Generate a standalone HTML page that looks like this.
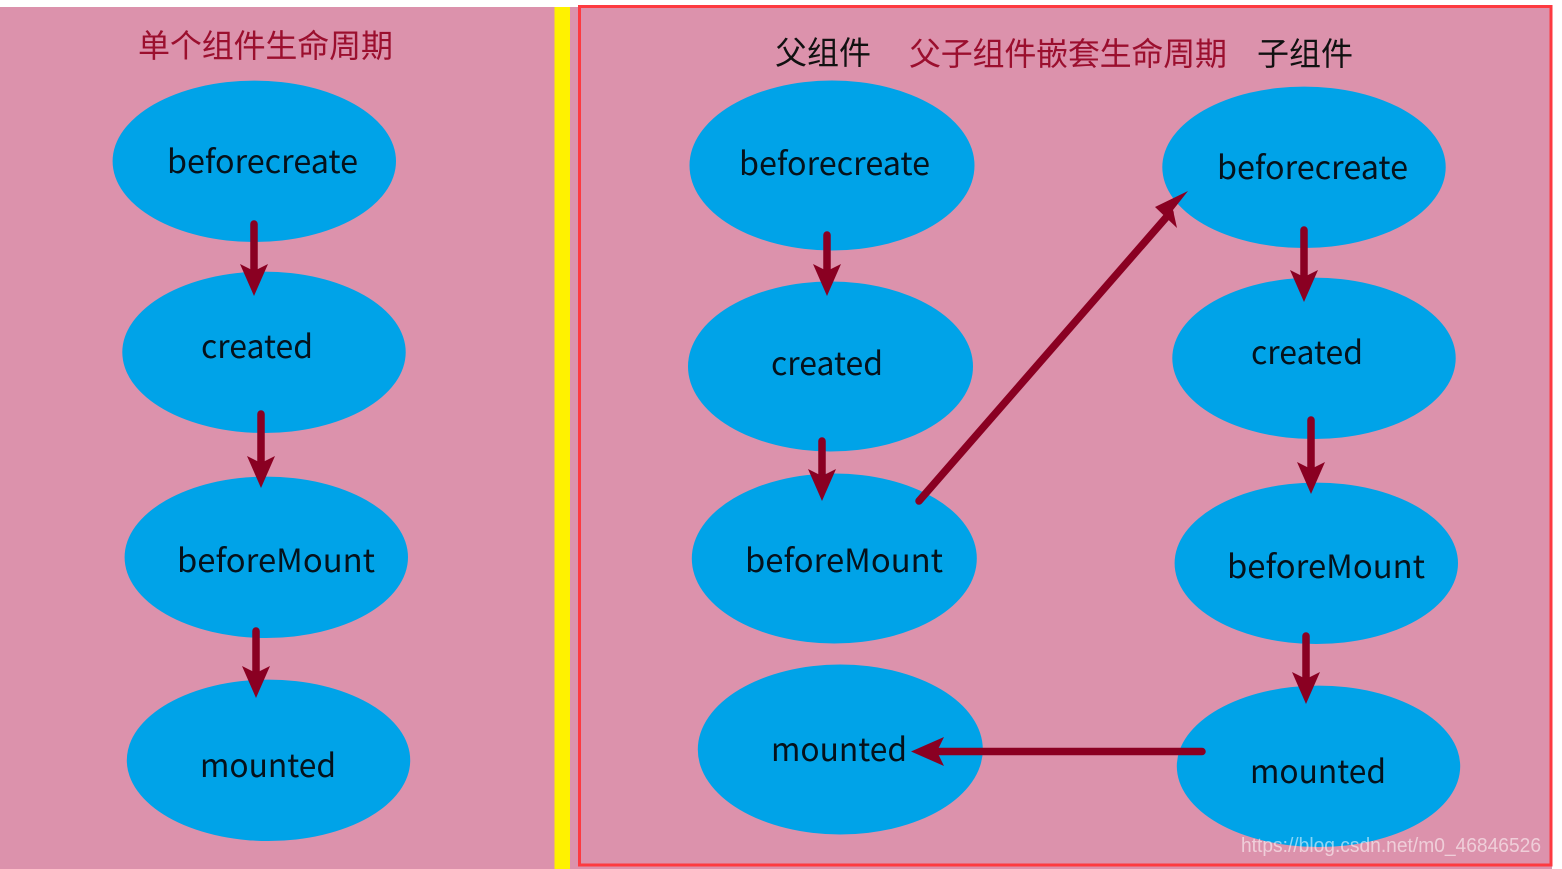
<!DOCTYPE html>
<html><head><meta charset="utf-8"><style>html,body{margin:0;padding:0;background:#fff;width:1562px;height:869px;overflow:hidden}svg{display:block}
text{font-family:"Noto Sans CJK SC","Liberation Sans",sans-serif}</style></head><body>
<svg width="1562" height="869" viewBox="0 0 1562 869" xmlns="http://www.w3.org/2000/svg">
<rect x="0" y="7" width="1552" height="862" fill="#dc92ac"/>
<rect x="554.500" y="7" width="15.500" height="862" fill="#fff200"/>
<rect x="579.500" y="6.500" width="971.500" height="858.500" fill="none" stroke="#fd3a40" stroke-width="3"/>
<g fill="#00a3e8">
<ellipse cx="254.300" cy="161.300" rx="141.700" ry="80.700"/><ellipse cx="264" cy="352.300" rx="141.700" ry="80.700"/><ellipse cx="266.300" cy="557.300" rx="141.700" ry="80.700"/><ellipse cx="268.500" cy="760.300" rx="141.700" ry="80.700"/>
<ellipse cx="832" cy="165.500" rx="142.500" ry="85"/><ellipse cx="830.500" cy="366.500" rx="142.500" ry="85"/><ellipse cx="834.300" cy="558.500" rx="142.500" ry="85"/><ellipse cx="840.300" cy="749.500" rx="142.500" ry="85"/>
<ellipse cx="1304" cy="167.300" rx="141.700" ry="80.700"/><ellipse cx="1314" cy="358.300" rx="141.700" ry="80.700"/><ellipse cx="1316.300" cy="563.300" rx="141.700" ry="80.700"/><ellipse cx="1318.500" cy="766.300" rx="141.700" ry="80.700"/>
</g>
<g stroke="#8a0022" stroke-width="7.500" stroke-linecap="round" fill="none">
<path d="M254 224V270M261 414V462M256 631V672M827 235V272M822 441V476M1304 230V276M1311 420V468M1306 636V678M919 501L1170 213M1202 751.500H940"/>
</g>
<g fill="#8a0022">
<path d="M240 264L254 296L268 264L254 271Z"/><path d="M247 456L261 488L275 456L261 463Z"/><path d="M242 666L256 698L270 666L256 673Z"/>
<path d="M813 264L827 296L841 264L827 271Z"/><path d="M808 469L822 501L836 469L822 476Z"/>
<path d="M1290 270L1304 302L1318 270L1304 277Z"/><path d="M1297 462L1311 494L1325 462L1311 469Z"/><path d="M1292 672L1306 704L1320 672L1306 679Z"/>
<path d="M1188 191L1155 207L1177 228L1173 210Z"/><path d="M911 751.500L944 737L937 751.500L944 766Z"/>
</g>
<g font-size="32" fill="#05121c">
<text x="167" y="173" textLength="191" lengthAdjust="spacingAndGlyphs">beforecreate</text>
<text x="201" y="358" textLength="112" lengthAdjust="spacingAndGlyphs">created</text>
<text x="177" y="572" textLength="198" lengthAdjust="spacingAndGlyphs">beforeMount</text>
<text x="200" y="777" textLength="136" lengthAdjust="spacingAndGlyphs">mounted</text>
<text x="739" y="175" textLength="191" lengthAdjust="spacingAndGlyphs">beforecreate</text>
<text x="771" y="375" textLength="112" lengthAdjust="spacingAndGlyphs">created</text>
<text x="745" y="572" textLength="198" lengthAdjust="spacingAndGlyphs">beforeMount</text>
<text x="771" y="761" textLength="136" lengthAdjust="spacingAndGlyphs">mounted</text>
<text x="1217" y="179" textLength="191" lengthAdjust="spacingAndGlyphs">beforecreate</text>
<text x="1251" y="364" textLength="112" lengthAdjust="spacingAndGlyphs">created</text>
<text x="1227" y="578" textLength="198" lengthAdjust="spacingAndGlyphs">beforeMount</text>
<text x="1250" y="783" textLength="136" lengthAdjust="spacingAndGlyphs">mounted</text>
</g>
<g font-size="32">
<text x="138" y="57" fill="#9b0f2e" textLength="255">单个组件生命周期</text>
<text x="775" y="64" fill="#111" textLength="96">父组件</text>
<text x="909" y="65" fill="#9b0f2e" textLength="318">父子组件嵌套生命周期</text>
<text x="1257" y="65" fill="#111" textLength="96">子组件</text>
</g>
<text x="1241" y="852" font-size="20" fill="#fff" fill-opacity=".55" textLength="300" lengthAdjust="spacingAndGlyphs" style="font-family:'Liberation Sans',sans-serif">https://blog.csdn.net/m0_46846526</text>
</svg>
</body></html>
